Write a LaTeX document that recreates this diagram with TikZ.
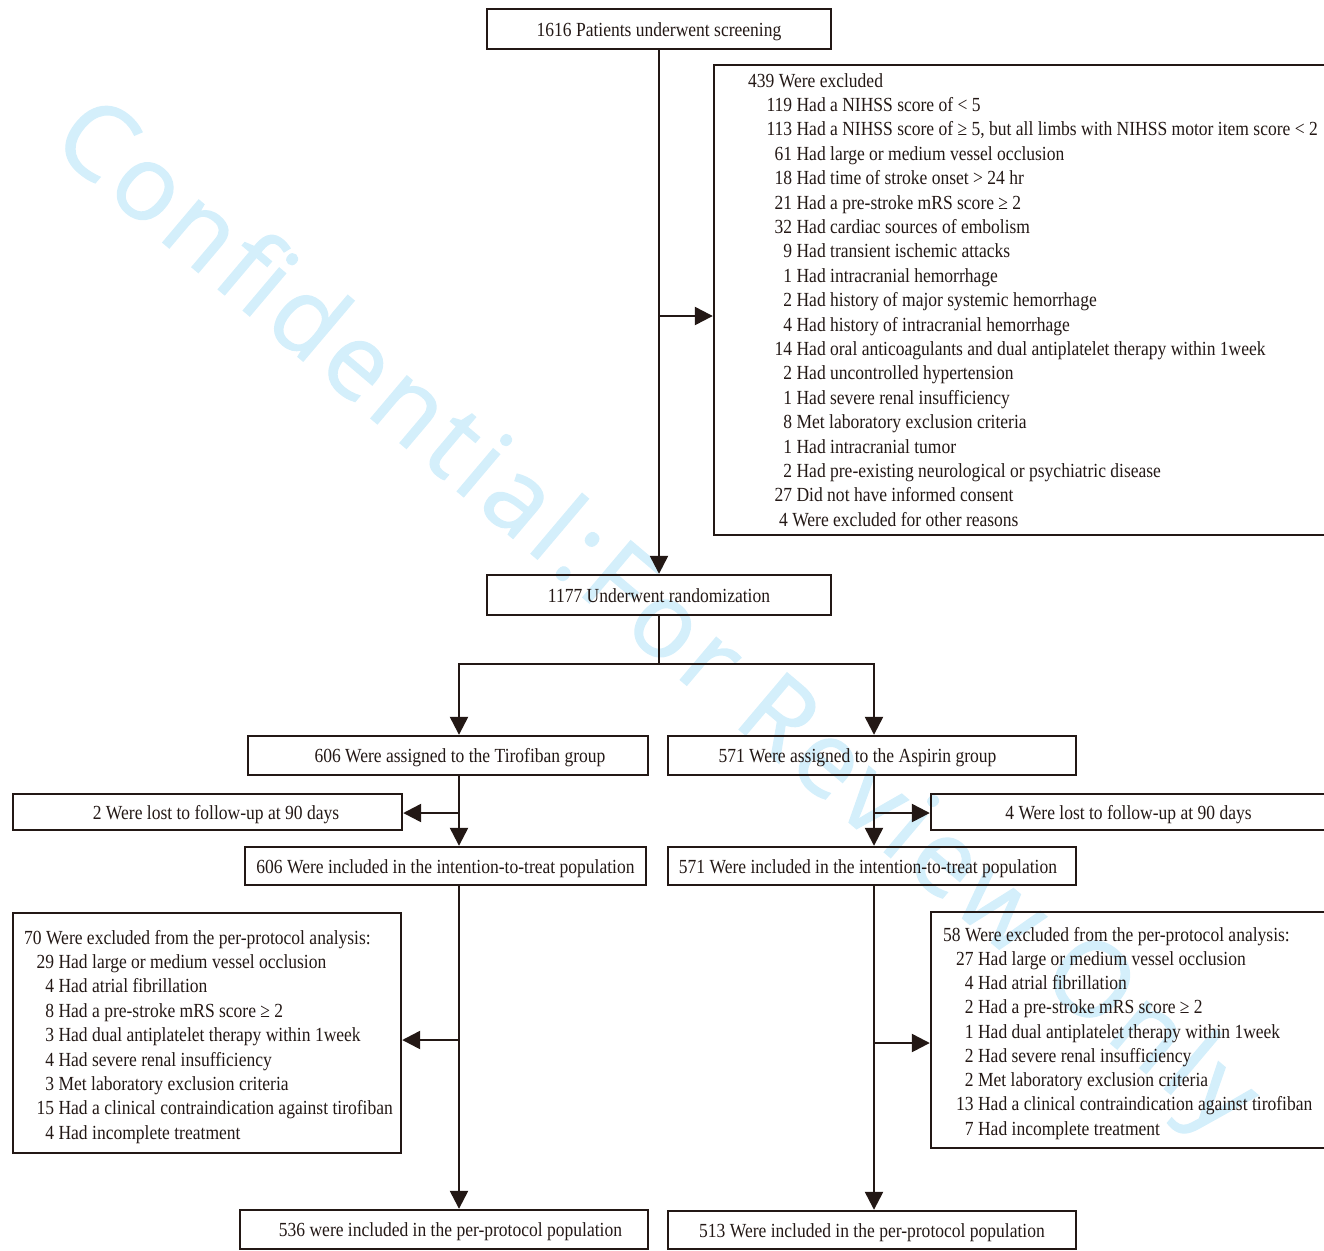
\documentclass[tikz,border=0pt]{standalone}
\usepackage{fontspec}
\setmainfont{Liberation Serif}[FakeStretch=0.876]
\newfontfamily\wmfont{Open Sans}[LetterSpace=6,FakeBold=1.2]
\usetikzlibrary{arrows.meta}
\definecolor{ink}{HTML}{231815}
\definecolor{wm}{HTML}{D4EFFB}
\begin{document}
\begin{tikzpicture}[x=1pt,y=-1pt,
  every node/.style={inner sep=0pt, text=ink},
  tf/.style={font=\fontsize{20}{24.4}\selectfont},
  box/.style={draw=ink, line width=2.4pt, tf, text height=14pt, text depth=0pt},
  ln/.style={draw=ink, line width=2.4pt},
  arr/.style={ln, -{Triangle[length=18pt,width=18pt]}},
  row/.style={tf, anchor=base west},
]
\useasboundingbox (0,0) rectangle (1324,1250);
% watermark
\node[font=\wmfont\fontsize{104}{104}\selectfont, text=wm, rotate=-40.2] (wmark) at (653,621) {Confidential:For Review Only};

% boxes
\node[box, minimum width=344pt, minimum height=40pt] (screen) at (659,29) {1616 Patients underwent screening};
\node[box, minimum width=620pt, minimum height=470pt] (excl) at (1024,300) {};
\node[box, minimum width=344pt, minimum height=40pt] (rand) at (659,595) {1177 Underwent randomization};
\node[box, minimum width=400pt, minimum height=39pt] (tiro) at (448,755.5) {\hspace*{24pt}606 Were assigned to the Tirofiban group};
\node[box, minimum width=408pt, minimum height=39pt] (asp) at (872,755.5) {571 Were assigned to the Aspirin group\hspace*{29pt}};
\node[box, minimum width=389pt, minimum height=36pt] (lostL) at (207.5,812) {\hspace*{17pt}2 Were lost to follow-up at 90 days};
\node[box, minimum width=403pt, minimum height=36pt] (lostR) at (1132.5,812) {4 Were lost to follow-up at 90 days\hspace*{8pt}};
\node[box, minimum width=401pt, minimum height=38pt] (ittL) at (445.5,866) {606 Were included in the intention-to-treat population};
\node[box, minimum width=408pt, minimum height=38pt] (ittR) at (872,866) {571 Were included in the intention-to-treat population\hspace*{8pt}};
\node[box, minimum width=388pt, minimum height=240pt] (ppexL) at (207,1033) {};
\node[box, minimum width=403pt, minimum height=236pt] (ppexR) at (1132.5,1030) {};
\node[box, minimum width=408pt, minimum height=39pt] (ppL) at (444,1229.5) {\hspace*{13pt}536 were included in the per-protocol population};
\node[box, minimum width=408pt, minimum height=38pt] (ppR) at (872,1230) {513 Were included in the per-protocol population};

% exclusion list
\node[row] (exh) at (748,87) {439 Were excluded};
\foreach \nA/\tA [count=\i] in {
 119/{Had a NIHSS score of < 5},
 113/{Had a NIHSS score of ≥ 5, but all limbs with NIHSS motor item score < 2},
 61/{Had large or medium vessel occlusion},
 18/{Had time of stroke onset > 24 hr},
 21/{Had a pre-stroke mRS score ≥ 2},
 32/{Had cardiac sources of embolism},
 9/{Had transient ischemic attacks},
 1/{Had intracranial hemorrhage},
 2/{Had history of major systemic hemorrhage},
 4/{Had history of intracranial hemorrhage},
 14/{Had oral anticoagulants and dual antiplatelet therapy within 1week},
 2/{Had uncontrolled hypertension},
 1/{Had severe renal insufficiency},
 8/{Met laboratory exclusion criteria},
 1/{Had intracranial tumor},
 2/{Had pre-existing neurological or psychiatric disease},
 27/{Did not have informed consent}}
 {\node[row] (ex\i) at (792,{87+\i*24.4}) {\makebox[0pt][r]{\nA}\ \tA};}
\node[row] (exlast) at (787.7,{87+18*24.4}) {\makebox[0pt][r]{4}\ Were excluded for other reasons};

% per-protocol exclusions, left
\node[row] (pLh) at (24,944) {70 Were excluded from the per-protocol analysis:};
\foreach \nA/\tA [count=\i] in {
 29/{Had large or medium vessel occlusion},
 4/{Had atrial fibrillation},
 8/{Had a pre-stroke mRS score ≥ 2},
 3/{Had dual antiplatelet therapy within 1week},
 4/{Had severe renal insufficiency},
 3/{Met laboratory exclusion criteria},
 15/{Had a clinical contraindication against tirofiban},
 4/{Had incomplete treatment}}
 {\node[row] (pL\i) at (54,{944+\i*24.4}) {\makebox[0pt][r]{\nA}\ \tA};}

% per-protocol exclusions, right
\node[row] (pRh) at (943,941) {58 Were excluded from the per-protocol analysis:};
\foreach \nA/\tA [count=\i] in {
 27/{Had large or medium vessel occlusion},
 4/{Had atrial fibrillation},
 2/{Had a pre-stroke mRS score ≥ 2},
 1/{Had dual antiplatelet therapy within 1week},
 2/{Had severe renal insufficiency},
 2/{Met laboratory exclusion criteria},
 13/{Had a clinical contraindication against tirofiban},
 7/{Had incomplete treatment}}
 {\node[row] (pR\i) at (973.5,{941+\i*24.25}) {\makebox[0pt][r]{\nA}\ \tA};}

% connectors
\coordinate (xL) at (459,0);
\coordinate (xR) at (874,0);
\coordinate (j1) at (659,316);
\coordinate (spL) at (459,664);
\coordinate (spR) at (874,664);
\coordinate (jL1) at (459,813);
\coordinate (jR1) at (874,813);
\coordinate (jL2) at (459,1040);
\coordinate (jR2) at (874,1043);

\draw[arr] (screen.south) -- (screen.south |- rand.north);
\draw[arr] (j1) -- (j1 -| excl.west);
\draw[ln] (rand.south) -- (rand.south |- spL);
\draw[arr] (rand.south |- spL) -- (spL) -- (spL |- tiro.north);
\draw[arr] (rand.south |- spL) -- (spR) -- (spR |- asp.north);

\draw[arr] (xL |- tiro.south) -- (xL |- ittL.north);
\draw[arr] (jL1) -- (jL1 -| lostL.east);
\draw[arr] (xR |- asp.south) -- (xR |- ittR.north);
\draw[arr] (jR1) -- (jR1 -| lostR.west);

\draw[arr] (xL |- ittL.south) -- (xL |- ppL.north);
\draw[arr] (jL2) -- (jL2 -| ppexL.east);
\draw[arr] (xR |- ittR.south) -- (xR |- ppR.north);
\draw[arr] (jR2) -- (jR2 -| ppexR.west);
\end{tikzpicture}
\end{document}
